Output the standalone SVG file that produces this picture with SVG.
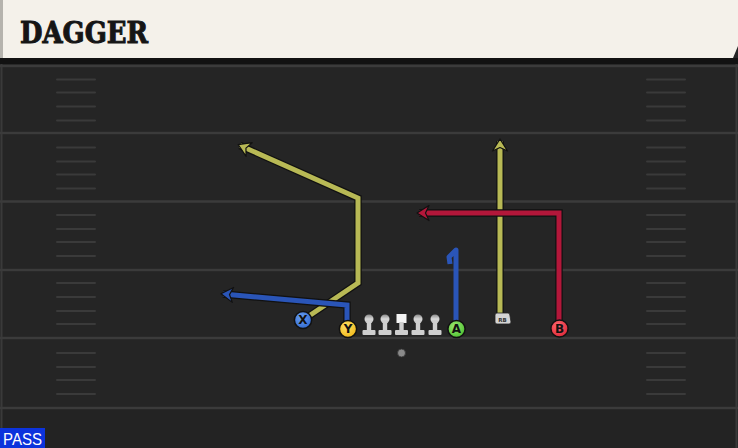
<svg xmlns="http://www.w3.org/2000/svg" width="738" height="448" viewBox="0 0 738 448">
<defs>
<style>
.yard{stroke:#3b3b3b;stroke-width:2.5;fill:none}
.hash{stroke:#3a3a3a;stroke-width:2;stroke-linecap:round;fill:none}
.out{stroke:#111;stroke-width:7.4;fill:none;stroke-linejoin:miter}
.ry{stroke:#b8b955;stroke-width:5;fill:none}
.rb{stroke:#2a55b8;stroke-width:5;fill:none}
.rr{stroke:#b3173a;stroke-width:5;fill:none}
.lbl{font-family:"DejaVu Sans","Liberation Sans",sans-serif;font-weight:bold;font-size:12px;fill:#111;text-anchor:middle}
.pc{stroke:#111;stroke-width:1.5}
.ol{fill:#d4d4d4;stroke:#222;stroke-width:0.8}
</style>
<marker id="ay" viewBox="-13 -10 16 20" markerWidth="16" markerHeight="20" refX="0" refY="0" orient="auto" markerUnits="userSpaceOnUse"><path d="M2,0 L-10,-7.5 L-6.5,0 L-10,7.5 Z" fill="#b8b955" stroke="#111" stroke-width="1.2" stroke-linejoin="round"/></marker>
<marker id="ab" viewBox="-13 -10 16 20" markerWidth="16" markerHeight="20" refX="0" refY="0" orient="auto" markerUnits="userSpaceOnUse"><path d="M2,0 L-10,-7.5 L-6.5,0 L-10,7.5 Z" fill="#2a55b8" stroke="#111" stroke-width="1.2" stroke-linejoin="round"/></marker>
<marker id="ar" viewBox="-13 -10 16 20" markerWidth="16" markerHeight="20" refX="0" refY="0" orient="auto" markerUnits="userSpaceOnUse"><path d="M2,0 L-10,-7.5 L-6.5,0 L-10,7.5 Z" fill="#b3173a" stroke="#111" stroke-width="1.2" stroke-linejoin="round"/></marker>
<radialGradient id="gx" cx="0.4" cy="0.35" r="0.7"><stop offset="0" stop-color="#6a9ff0"/><stop offset="1" stop-color="#2f68cf"/></radialGradient>
<radialGradient id="gy" cx="0.4" cy="0.35" r="0.7"><stop offset="0" stop-color="#ffe066"/><stop offset="1" stop-color="#f0b818"/></radialGradient>
<radialGradient id="ga" cx="0.4" cy="0.35" r="0.7"><stop offset="0" stop-color="#9be870"/><stop offset="1" stop-color="#4cbf30"/></radialGradient>
<radialGradient id="gb" cx="0.4" cy="0.35" r="0.7"><stop offset="0" stop-color="#ff6b72"/><stop offset="1" stop-color="#dd2535"/></radialGradient>
<linearGradient id="gl" x1="0" y1="0" x2="0" y2="1"><stop offset="0" stop-color="#8a8a8a"/><stop offset="0.5" stop-color="#d8d8d8"/><stop offset="1" stop-color="#bdbdbd"/></linearGradient>
<g id="lineman"><circle cx="0" cy="-10" r="4.5" fill="url(#gl)"/><rect x="-2.2" y="-8" width="4.4" height="10" fill="#cfcfcf"/><rect x="-6.5" y="1" width="13" height="5" rx="1" fill="#cfcfcf"/></g>
</defs>

<!-- field -->
<rect x="0" y="0" width="738" height="448" fill="#252525"/>
<rect x="0" y="409" width="738" height="39" fill="#232323"/>
<rect x="0" y="58" width="738" height="6" fill="#121212"/>
<line x1="1.5" y1="64" x2="1.5" y2="448" stroke="#3a3a3a" stroke-width="2"/>
<line x1="736.5" y1="64" x2="736.5" y2="448" stroke="#3a3a3a" stroke-width="2"/>
<g id="yardlines">
<line class="yard" x1="0" y1="66" x2="738" y2="66"/>
<line class="yard" x1="0" y1="133" x2="738" y2="133"/>
<line class="yard" x1="0" y1="201.5" x2="738" y2="201.5"/>
<line class="yard" x1="0" y1="270" x2="738" y2="270"/>
<line class="yard" x1="0" y1="338" x2="738" y2="338"/>
<line class="yard" x1="0" y1="408" x2="738" y2="408"/>
</g>
<g id="hashes">
<path class="hash" d="M57,79.5h38M57,92.5h38M57,106.5h38M57,120.5h38M57,147.5h38M57,161.5h38M57,174.5h38M57,188.5h38M57,215h38M57,229h38M57,242h38M57,256h38M57,283h38M57,297h38M57,311h38M57,324h38M57,353h38M57,367h38M57,380h38M57,394h38"/>
<path class="hash" d="M647,79.5h38M647,92.5h38M647,106.5h38M647,120.5h38M647,147.5h38M647,161.5h38M647,174.5h38M647,188.5h38M647,215h38M647,229h38M647,242h38M647,256h38M647,283h38M647,297h38M647,311h38M647,324h38M647,353h38M647,367h38M647,380h38M647,394h38"/>
</g>

<!-- header -->
<g id="header">
<path d="M0,0 H738 V46 L733,58 H0 Z" fill="#f4f1ea"/>
<rect x="0" y="0" width="3" height="58" fill="#b5b3ad"/>
<text x="20" y="43" font-family="'DejaVu Serif','Liberation Serif',serif" font-weight="bold" font-size="29" textLength="128" lengthAdjust="spacingAndGlyphs" fill="#151515" stroke="#151515" stroke-width="1">DAGGER</text>
</g>

<!-- connectors -->
<g id="routes">
<path class="out" d="M303,320 L358,283 L358,198 L240,145.5"/>
<path class="ry" d="M303,320 L358,283 L358,198 L240,145.5" marker-end="url(#ay)"/>
<path class="out" d="M500,316 L500,141"/>
<path class="ry" d="M500,316 L500,141" marker-end="url(#ay)"/>
<path class="out" d="M347,324 L347,305 L223,294"/>
<path class="rb" d="M347,324 L347,305 L223,294" marker-end="url(#ab)"/>
<path d="M456,322 L456,250 L449,257 L450,264" fill="none" stroke="#2a55b8" stroke-width="5" stroke-linejoin="round"/>
<path class="out" d="M559,322 L559,213 L419,213"/>
<path class="rr" d="M559,322 L559,213 L419,213" marker-end="url(#ar)"/>
</g>

<!-- players -->
<g id="X"><circle class="pc" cx="303" cy="320" r="8.6" fill="url(#gx)"/><text class="lbl" x="303" y="324.3">X</text></g>
<g id="Y"><circle class="pc" cx="348" cy="329" r="8.6" fill="url(#gy)"/><text class="lbl" x="348" y="333.3">Y</text></g>
<g id="LT"><use href="#lineman" x="369" y="329"/></g>
<g id="LG"><use href="#lineman" x="385" y="329"/></g>
<g id="C"><rect x="396.5" y="314" width="10" height="9" fill="#f4f4f4"/><rect x="399.3" y="322" width="4.4" height="8" fill="#cfcfcf"/><rect x="395" y="330" width="13" height="5" rx="1" fill="#cfcfcf"/></g>
<g id="RG"><use href="#lineman" x="418" y="329"/></g>
<g id="RT"><use href="#lineman" x="435" y="329"/></g>
<g id="A"><circle class="pc" cx="456.5" cy="329" r="8.6" fill="url(#ga)"/><text class="lbl" x="456.5" y="333.3">A</text></g>
<g id="RB"><path class="ol" d="M495,315 Q495,313 497,313 H508 Q510,313 510,316 L511,322 Q511,324 509,324 H497 Q495,324 495,322 Z"/><text x="502.5" y="321.5" font-family="'DejaVu Sans',sans-serif" font-size="5.5" font-weight="bold" fill="#333" text-anchor="middle">RB</text></g>
<g id="B"><circle class="pc" cx="559.5" cy="328.5" r="8.6" fill="url(#gb)"/><text class="lbl" x="559.5" y="332.8">B</text></g>
<g id="QB"><circle cx="401.5" cy="353" r="4" fill="#8a8a8a" stroke="#333" stroke-width="0.8"/></g>

<!-- label -->
<g id="pass"><rect x="0" y="428" width="45" height="20" fill="#0c33dc"/><text x="3" y="445" font-family="'Liberation Sans','DejaVu Sans',sans-serif" font-size="17" fill="#ffffff" textLength="39" lengthAdjust="spacingAndGlyphs">PASS</text></g>
</svg>
